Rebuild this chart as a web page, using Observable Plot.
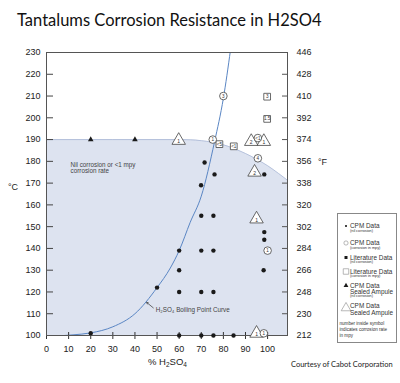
<!DOCTYPE html>
<html>
<head>
<meta charset="utf-8">
<script src="https://cdn.jsdelivr.net/npm/d3@7"></script>
<script src="https://cdn.jsdelivr.net/npm/@observablehq/plot@0.6"></script>
<style>
  html, body { margin: 0; padding: 0; background: #fff; }
  #wrap { position: relative; width: 400px; height: 383px; overflow: hidden; font-family: "Liberation Sans", Arial, sans-serif; }
  #chart { position: absolute; left: 0; top: 0; }
  .abs { position: absolute; white-space: nowrap; color: #222; }
  #title { left: 17px; top: 10px; font-family: Lato, "Open Sans", sans-serif; font-size: 16.5px; line-height: 20px; color: #111; }
  #caption { left: 291px; top: 360px; font-family: Lato, sans-serif; font-size: 7.5px; line-height: 10px; color: #222; }
  #xlab { left: 148px; top: 356px; font-size: 9.5px; line-height: 12px; }
  #xlab sub { font-size: 6.5px; vertical-align: -2px; line-height: 0; }
  #clab { left: 8px; top: 182px; font-size: 9px; line-height: 10px; }
  #flab { left: 318px; top: 157px; font-size: 9px; line-height: 10px; }
  #legend { left: 337px; top: 213px; }
</style>
</head>
<body>
<div id="wrap">
  <div id="chart"></div>
  <div id="title" class="abs">Tantalums Corrosion Resistance in H2SO4</div>
  <div id="clab" class="abs">°C</div>
  <div id="flab" class="abs">°F</div>
  <div id="xlab" class="abs">% H<sub>2</sub>SO<sub>4</sub></div>
  <div id="legend" class="abs"></div>
  <div id="caption" class="abs">Courtesy of Cabot Corporation</div>
</div>
<script>
// ---- Data ----
const xTicks = [0, 10, 20, 30, 40, 50, 60, 70, 80, 90, 100];
const yTicks = [100, 110, 120, 130, 140, 150, 160, 170, 180, 190, 200, 210, 220, 230];

// H2SO4 boiling point curve
const boilPct  = [8, 12, 20, 30, 40, 50, 56, 60, 65, 70, 76, 80, 83.2];
const boilTemp = [100, 100.3, 101.2, 104, 110, 122, 131, 139, 152, 164, 189, 209, 231];

// "Nil corrosion or <1 mpy" region boundary
const nilPct  = [0, 60, 65, 70, 75, 80, 85, 90, 95, 100, 105, 109];
const nilTemp = [190, 190, 189.9, 189.5, 188.8, 187.6, 185.8, 183.6, 181, 178, 174.4, 171.3];

// CPM data (nil corrosion) – filled circles
const cpmNilPct  = [20, 50, 60, 70, 75.5, 84.6, 60, 70, 75.5, 60, 98.2, 60, 70, 75.5, 98.5, 98.5, 70, 75.5, 69.9, 76, 71.5, 98.5];
const cpmNilTemp = [101, 122, 100, 100, 100, 100, 120, 120, 120, 130, 130, 139, 139, 139, 144, 147.5, 155, 155, 169, 174, 179.5, 174];

// CPM data (corrosion in mpy) – open circles
const cpmRatePct  = [80, 75.2, 95.6, 95.6, 100, 98.3];
const cpmRateTemp = [210, 190, 190.7, 181.4, 139, 101];
const cpmRateText = ["3", "1", "<1", "4", "1", "1"];

// Literature data (corrosion in mpy) – open squares
const litRatePct  = [99.8, 99.8, 78.2, 84.7];
const litRateTemp = [209.7, 199.5, 187.9, 186.9];
const litRateText = ["3", "1.5", "<5", "<1"];

// CPM data, sealed ampule (nil corrosion) – filled triangles
const sealNilPct  = [20, 40];
const sealNilTemp = [190, 190];

// CPM data, sealed ampule (corrosion in mpy) – open triangles
const sealRatePct  = [59.8, 92.6, 98.3, 94.1, 95, 95];
const sealRateTemp = [189.6, 189.1, 189.1, 175, 153.5, 101];
const sealRateText = ["1", "2", "1", "2", "1", "1"];

// annotations
const nilNote = ["Nil corrosion or <1 mpy", "corrosion rate"];
const nilNotePos = {pct: 10.9, temp: 176.9};
const boilNote = "H₂SO₄ Boiling Point Curve";
const boilNotePos = {pct: 49.4, temp: 111.6};
const boilArrow = [{x1: 48.3, y1: 112.7, x2: 45.3, y2: 115.2}];

// ---- Tables ----
const zip = (xs, ys, ts) => xs.map((p, i) => ({pct: p, temp: ys[i], label: ts ? ts[i] : null}));
const boil = zip(boilPct, boilTemp);
const nil = zip(nilPct, nilTemp);
const cpmNil = zip(cpmNilPct, cpmNilTemp);
const cpmRate = zip(cpmRatePct, cpmRateTemp, cpmRateText);
const litRate = zip(litRatePct, litRateTemp, litRateText);
const sealNil = zip(sealNilPct, sealNilTemp);
const sealRate = zip(sealRatePct, sealRateTemp, sealRateText);

const ink = "#1a1a1a";
const chart = Plot.plot({
  width: 400, height: 383,
  marginLeft: 46, marginRight: 113, marginTop: 52, marginBottom: 48,
  style: {fontFamily: "'Liberation Sans', Arial, sans-serif", background: "transparent", color: "#222"},
  x: {domain: [0, 109], label: null},
  y: {domain: [100, 230], label: null},
  marks: [
    Plot.areaY(nil, {x: "pct", y1: 100, y2: "temp", fill: "#dde3f0", curve: "monotone-x"}),
    Plot.line(nil, {x: "pct", y: "temp", stroke: "#a9b8d6", strokeWidth: 0.8, curve: "monotone-x"}),
    Plot.line(boil, {x: "pct", y: "temp", stroke: "#5a86c4", strokeWidth: 1, curve: "monotone-x", clip: true}),
    // axes
    Plot.axisY(yTicks, {anchor: "left", tickSize: 0, tickPadding: 6, fontSize: 9, fill: "#222"}),
    Plot.axisY(yTicks, {anchor: "left", tickSize: -7, tickFormat: () => "", stroke: "#444"}),
    Plot.axisY(yTicks, {anchor: "right", tickSize: 0, tickPadding: 9, fontSize: 9, fill: "#222", tickFormat: d => String(Math.round(d * 9 / 5 + 32))}),
    Plot.axisY(yTicks, {anchor: "right", tickSize: -6, tickFormat: () => "", stroke: "#555"}),
    Plot.axisX(xTicks, {anchor: "bottom", tickSize: 0, tickPadding: 10, fontSize: 9, fill: "#222"}),
    Plot.axisX(xTicks, {anchor: "bottom", tickSize: 4, tickFormat: () => "", stroke: "#333"}),
    Plot.axisX(xTicks, {anchor: "bottom", tickSize: -3, tickFormat: () => "", stroke: "#333"}),
    Plot.frame({stroke: "#555", strokeWidth: 1}),
    // annotations
    Plot.text([nilNote.join("\n")], {x: () => nilNotePos.pct, y: () => nilNotePos.temp, text: d => d, textAnchor: "start", fontSize: 6.3, fill: "#444", lineHeight: 1.0}),
    Plot.text([boilNote], {x: () => boilNotePos.pct, y: () => boilNotePos.temp, text: d => d, textAnchor: "start", fontSize: 6.3, fill: "#444"}),
    Plot.arrow(boilArrow, {x1: "x1", y1: "y1", x2: "x2", y2: "y2", stroke: "#333", strokeWidth: 0.7, headLength: 3.5}),
    // data
    Plot.dot(cpmNil, {x: "pct", y: "temp", r: 2.2, fill: ink}),
    Plot.dot(sealNil, {x: "pct", y: "temp", symbol: "triangle", r: 2.1, fill: ink}),
    Plot.dot(sealRate, {x: "pct", y: "temp", symbol: "triangle", r: 5, fill: "#fff", stroke: "#444", strokeWidth: 0.8}),
    Plot.text(sealRate, {x: "pct", y: "temp", text: "label", fontSize: 5, fill: "#333", dy: 1}),
    Plot.dot(litRate, {x: "pct", y: "temp", symbol: "square", r: 3.8, fill: "#fff", stroke: "#444", strokeWidth: 0.8}),
    Plot.text(litRate, {x: "pct", y: "temp", text: "label", fontSize: 4.6, fill: "#333"}),
    Plot.dot(cpmRate, {x: "pct", y: "temp", r: 3.8, fill: "#fff", stroke: "#444", strokeWidth: 0.8}),
    Plot.text(cpmRate, {x: "pct", y: "temp", text: "label", fontSize: 4.6, fill: "#333"})
  ]
});
document.getElementById("chart").appendChild(chart);

// ---- Legend ----
const legendRows = [
  {sym: "circle", filled: true, size: 3.5, sy: 13, lines: [["CPM Data", 13, 6.4], ["(nil corrosion)", 17.5, 3.8]]},
  {sym: "circle", filled: false, size: 14, sy: 30, lines: [["CPM Data", 30, 6.4], ["(corrosion in mpy)", 34.5, 3.8]]},
  {sym: "square", filled: true, size: 9, sy: 44.5, lines: [["Literature Data", 44.5, 6.4], ["(nil corrosion)", 49, 3.8]]},
  {sym: "square", filled: false, size: 30, sy: 58.5, lines: [["Literature Data", 58.5, 6.4], ["(corrosion in mpy)", 63, 3.8]]},
  {sym: "triangle", filled: true, size: 10, sy: 72.5, lines: [["CPM Data", 72.5, 6.4], ["Sealed Ampule", 78.5, 6.4], ["(nil corrosion)", 83, 3.8]]},
  {sym: "triangle", filled: false, size: 40, sy: 95, lines: [["CPM Data", 93, 6.4], ["Sealed Ampule", 99.5, 6.4]]}
];
const legendNote = [["number inside symbol", 110], ["indicates corrosion rate", 116], ["in mpy", 122]];
const symbols = {circle: d3.symbolCircle, square: d3.symbolSquare, triangle: d3.symbolTriangle};
const lg = d3.create("svg").attr("width", 60).attr("height", 130).style("display", "block");
lg.append("rect").attr("x", 0.5).attr("y", 0.5).attr("width", 59).attr("height", 129)
  .attr("fill", "#fff").attr("stroke", "#888").attr("stroke-width", 1);
for (const row of legendRows) {
  lg.append("path").attr("transform", `translate(9,${row.sy})`)
    .attr("d", d3.symbol(symbols[row.sym], row.size)())
    .attr("fill", row.filled ? ink : "#fff")
    .attr("stroke", row.filled ? "none" : "#999").attr("stroke-width", 0.7);
  for (const [t, y, fs] of row.lines) {
    lg.append("text").attr("x", 13).attr("y", y).attr("dy", "0.35em")
      .attr("font-size", fs).attr("fill", "#333").attr("font-family", "'Liberation Sans', Arial, sans-serif").text(t);
  }
}
for (const [t, y] of legendNote) {
  lg.append("text").attr("x", 2.5).attr("y", y).attr("dy", "0.35em")
    .attr("font-size", 4.6).attr("fill", "#333").attr("font-family", "'Liberation Sans', Arial, sans-serif").text(t);
}
document.getElementById("legend").appendChild(lg.node());
</script>
</body>
</html>
